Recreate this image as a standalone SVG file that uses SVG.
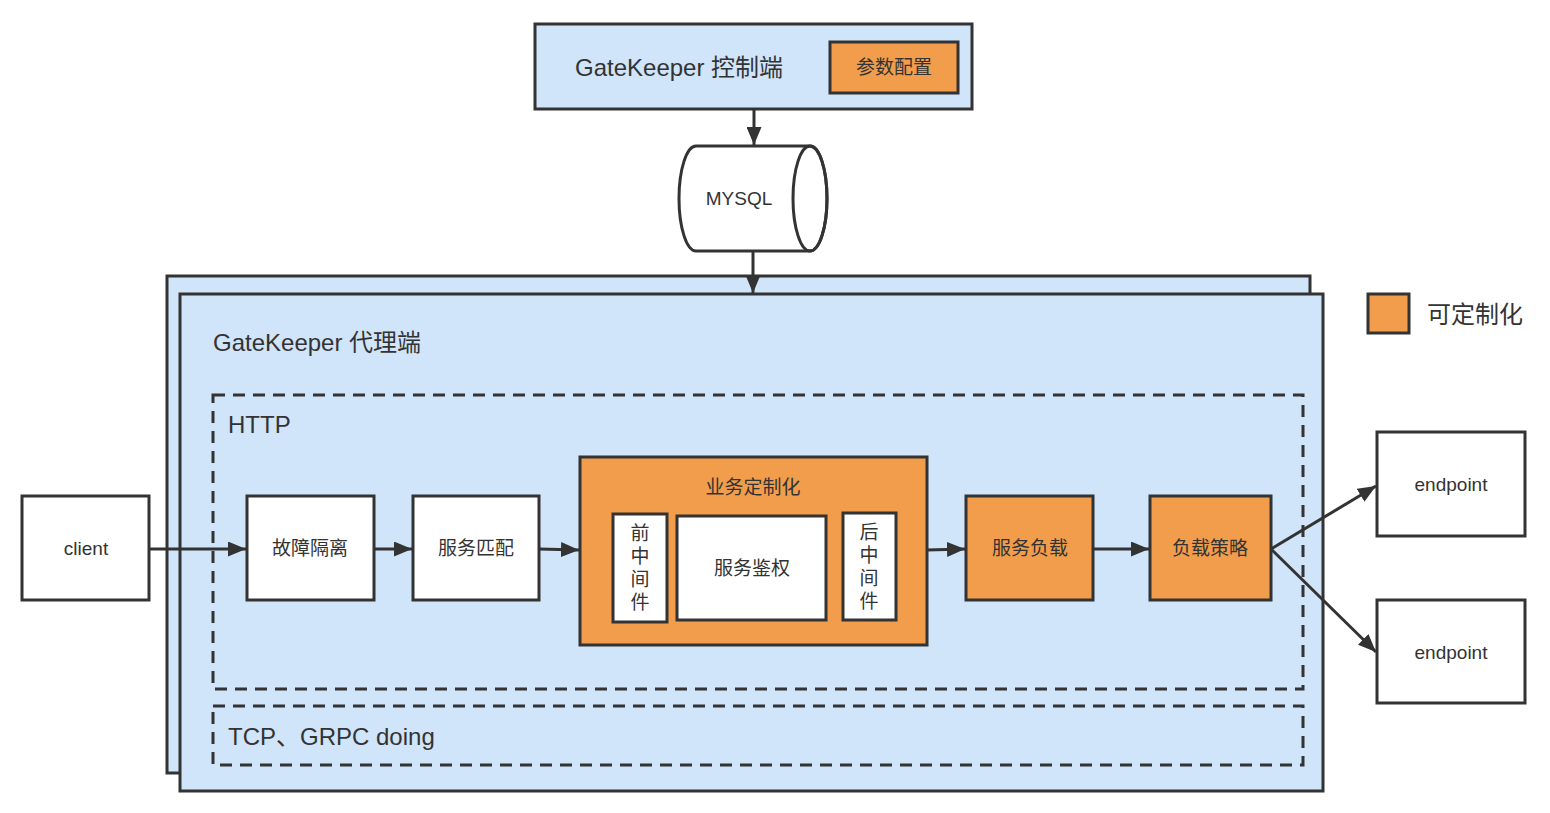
<svg xmlns="http://www.w3.org/2000/svg" width="1550" height="813" viewBox="0 0 1550 813">
<style>
text{font-family:"Liberation Sans","Noto Sans CJK SC",sans-serif;fill:#333;}
.b{stroke:#333;stroke-width:3;}
.blue{fill:#D0E4FA;}
.org{fill:#F29D4B;}
.wh{fill:#fff;}
.d{fill:none;stroke:#333;stroke-width:3;stroke-dasharray:12 8;}
.c{text-anchor:middle;dominant-baseline:central;font-size:19px;}
.l{font-size:24px;dominant-baseline:central;}
.e{stroke:#333;stroke-width:3;fill:none;}
</style>
<defs>
<marker id="a" viewBox="0 0 12 10" refX="12" refY="5" markerWidth="18" markerHeight="15" markerUnits="userSpaceOnUse" orient="auto">
<path d="M0,0 L12,5 L0,10 z" fill="#333"/>
</marker>
</defs>

<g id="proxy-back"><rect class="b blue" x="167" y="276" width="1143" height="497"/></g>
<g id="proxy"><rect class="b blue" x="180" y="294" width="1143" height="497"/>
<text class="l" x="213" y="342">GateKeeper 代理端</text></g>

<g id="http"><rect class="d" x="213" y="395" width="1090" height="294"/>
<text class="l" x="228" y="424">HTTP</text></g>
<g id="tcp"><rect class="d" x="213" y="706" width="1090" height="59"/>
<text class="l" x="228" y="736">TCP、GRPC doing</text></g>

<g id="control"><rect class="b blue" x="535" y="24" width="437" height="85"/>
<text class="l" x="575" y="67">GateKeeper 控制端</text></g>
<g id="params"><rect class="b org" x="830" y="42" width="128" height="51"/>
<text class="c" x="894" y="67">参数配置</text></g>

<g id="mysql">
<path class="b wh" d="M696,146 L810,146 A17,52.5 0 0 1 810,251 L696,251 A17,52.5 0 0 1 696,146 Z"/>
<ellipse class="b" fill="none" cx="810" cy="198.5" rx="17" ry="52.5"/>
<text class="c" x="739" y="198">MYSQL</text></g>

<g id="client"><rect class="b wh" x="22" y="496" width="127" height="104"/>
<text class="c" x="86" y="548">client</text></g>
<g id="fault"><rect class="b wh" x="247" y="496" width="127" height="104"/>
<text class="c" x="310" y="548">故障隔离</text></g>
<g id="match"><rect class="b wh" x="413" y="496" width="126" height="104"/>
<text class="c" x="476" y="548">服务匹配</text></g>

<g id="biz"><rect class="b org" x="580" y="457" width="347" height="188"/>
<text class="c" x="753" y="487">业务定制化</text></g>
<g id="pre"><rect class="b wh" x="613" y="514" width="54" height="108"/>
<text class="c" x="640" y="533">前</text><text class="c" x="640" y="556">中</text><text class="c" x="640" y="579">间</text><text class="c" x="640" y="602">件</text></g>
<g id="auth"><rect class="b wh" x="677" y="516" width="149" height="104"/>
<text class="c" x="752" y="568">服务鉴权</text></g>
<g id="post"><rect class="b wh" x="843" y="513" width="53" height="107"/>
<text class="c" x="869" y="532">后</text><text class="c" x="869" y="555">中</text><text class="c" x="869" y="578">间</text><text class="c" x="869" y="601">件</text></g>

<g id="lb"><rect class="b org" x="966" y="496" width="127" height="104"/>
<text class="c" x="1030" y="548">服务负载</text></g>
<g id="strategy"><rect class="b org" x="1150" y="496" width="121" height="104"/>
<text class="c" x="1210" y="548">负载策略</text></g>

<g id="ep1"><rect class="b wh" x="1377" y="432" width="148" height="104"/>
<text class="c" x="1451" y="484">endpoint</text></g>
<g id="ep2"><rect class="b wh" x="1377" y="600" width="148" height="103"/>
<text class="c" x="1451" y="652">endpoint</text></g>

<g id="legend"><rect class="b org" x="1368" y="294" width="41" height="39"/>
<text class="l" x="1427" y="314">可定制化</text></g>

<g id="connectors">
<line class="e" x1="754" y1="109" x2="754" y2="145" marker-end="url(#a)"/>
<line class="e" x1="753" y1="251" x2="753" y2="293" marker-end="url(#a)"/>
<line class="e" x1="149" y1="549" x2="246" y2="549" marker-end="url(#a)"/>
<line class="e" x1="374" y1="549" x2="412" y2="549" marker-end="url(#a)"/>
<line class="e" x1="539" y1="549" x2="579" y2="550" marker-end="url(#a)"/>
<line class="e" x1="927" y1="550" x2="965" y2="549" marker-end="url(#a)"/>
<line class="e" x1="1093" y1="549" x2="1149" y2="549" marker-end="url(#a)"/>
<line class="e" x1="1271" y1="549" x2="1376" y2="486" marker-end="url(#a)"/>
<line class="e" x1="1271" y1="549" x2="1376" y2="652" marker-end="url(#a)"/>
</g>
</svg>
